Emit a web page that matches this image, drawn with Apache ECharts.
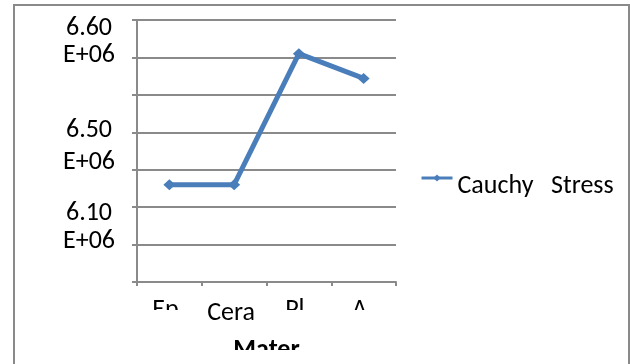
<!DOCTYPE html>
<html><head><meta charset="utf-8">
<script src="https://cdn.jsdelivr.net/npm/echarts@6/dist/echarts.min.js"></script>
<style>html,body{margin:0;padding:0;background:#fff;overflow:hidden}#c{width:630px;height:364px}</style>
</head><body><div id="c"></div>
<script>
// ---- data ----
const categories = ['Ep', 'Cera', 'Pl', 'A'];
const seriesName = 'Cauchy Stress';
const cauchyStress = [6.430e6, 6.430e6, 6.605e6, 6.572e6];
const yMin = 6.30e6, yMax = 6.65e6, yStep = 0.05e6;
const yTickValues = [6.60e6, 6.50e6, 6.40e6];
const yTickTexts = [['6.60', 'E+06'], ['6.50', 'E+06'], ['6.10', 'E+06']];
const xAxisTitle = 'Mater';
const upperRowLabels = ['Ep', 'Pl', 'A'];
const lowerRowLabels = ['Cera'];

// ---- styles ----
const FONT = 'Carlito, Lato, "Liberation Sans", sans-serif';
const FS = 26;
const GRID_C = '#8a8a8a';
const LINE_C = '#4A7EBB';
// per-label layout styles (rich-text spacing), index-aligned with yTickValues
const yLabelStyles = [
  {lh: 27, padAfter: 31},
  {lh: 32, padBefore: 29},
  {lh: 28, padBefore: 41}
];

const rich = {};
yLabelStyles.forEach((s, i) => {
  rich['t' + i] = {fontFamily: FONT, fontSize: FS, color: '#000', lineHeight: s.lh, align: 'center'};
  rich['s' + i] = {fontFamily: FONT, fontSize: 4, lineHeight: s.padBefore || s.padAfter || 1};
});

function yFormatter(v) {
  const key = Math.round(v / 1000);
  const idx = yTickValues.findIndex(t => Math.round(t / 1000) === key);
  if (idx < 0) return '';
  const s = yLabelStyles[idx];
  const lines = yTickTexts[idx].map(t => '{t' + idx + '|' + t + '}');
  if (s.padBefore) lines.unshift('{s' + idx + '| }');
  if (s.padAfter) lines.push('{s' + idx + '| }');
  return lines.join('\n');
}

const chart = echarts.init(document.getElementById('c'), null, {renderer: 'canvas'});
const baseX = {
  type: 'category',
  data: categories,
  boundaryGap: true,
  gridIndex: 0
};
chart.setOption({
  animation: false,
  backgroundColor: '#fff',
  grid: {left: 137, right: 234, top: 20, bottom: 82, containLabel: false, outerBoundsMode: 'none'},
  xAxis: [
    Object.assign({}, baseX, {
      position: 'bottom',
      z: 0,
      axisLine: {show: true, lineStyle: {color: GRID_C, width: 2}},
      axisTick: {show: true, inside: false, length: 4, alignWithLabel: false, lineStyle: {color: GRID_C, width: 2}},
      axisLabel: {
        show: true, interval: 0, margin: 15, padding: [0, 8, 0, 0],
        fontFamily: FONT, fontSize: FS, color: '#000',
        formatter: v => upperRowLabels.includes(v) ? v : ''
      },
      name: xAxisTitle, nameLocation: 'middle', nameGap: 55,
      nameTextStyle: {fontFamily: FONT, fontSize: FS, fontWeight: 'bold', color: '#000'}
    }),
    Object.assign({}, baseX, {
      position: 'bottom',
      z: 10,
      axisLine: {show: false},
      axisTick: {show: false},
      splitLine: {show: false},
      axisLabel: {
        show: true, interval: 0, margin: 18, padding: [0, 6, 0, 0],
        fontFamily: FONT, fontSize: FS, color: '#000',
        formatter: v => lowerRowLabels.includes(v) ? v : ''
      }
    })
  ],
  yAxis: {
    type: 'value',
    min: yMin, max: yMax, interval: yStep,
    axisLine: {show: true, lineStyle: {color: GRID_C, width: 2}},
    axisTick: {show: true, inside: false, length: 5, lineStyle: {color: GRID_C, width: 2}},
    splitLine: {show: true, lineStyle: {color: GRID_C, width: 2}},
    axisLabel: {
      show: true, margin: 48, align: 'center', verticalAlign: 'middle',
      fontFamily: FONT, fontSize: FS, color: '#000',
      formatter: yFormatter, rich: rich
    }
  },
  legend: {
    show: true,
    left: 415, top: 158,
    orient: 'vertical',
    itemWidth: 31, itemHeight: 9,
    itemGap: 4,
    data: [{name: seriesName}],
    lineStyle: {width: 3},
    textStyle: {
      fontFamily: FONT, fontSize: FS, color: '#000',
      rich: {
        sp: {fontFamily: FONT, fontSize: 4, lineHeight: 17},
        n: {fontFamily: FONT, fontSize: FS, color: '#000', lineHeight: 26}
      }
    },
    formatter: n => '{sp| }\n{n|' + n.replace(' ', '   ') + '}'
  },
  series: [{
    name: seriesName,
    type: 'line',
    xAxisIndex: 0,
    data: cauchyStress,
    symbol: 'diamond',
    symbolSize: [12, 11],
    lineStyle: {color: LINE_C, width: 5},
    itemStyle: {color: LINE_C},
    z: 2
  }],
  graphic: [
    {type: 'rect', z: 5, silent: true, shape: {x: 140, y: 310, width: 255, height: 22}, style: {fill: '#fff'}},
    {type: 'rect', z: 5, silent: true, shape: {x: 16, y: 350, width: 610, height: 14}, style: {fill: '#fff'}},
    {type: 'rect', z: 20, silent: true, shape: {x: 14, y: 5, width: 615, height: 420}, style: {fill: null, stroke: GRID_C, lineWidth: 2}}
  ]
});
</script></body></html>
